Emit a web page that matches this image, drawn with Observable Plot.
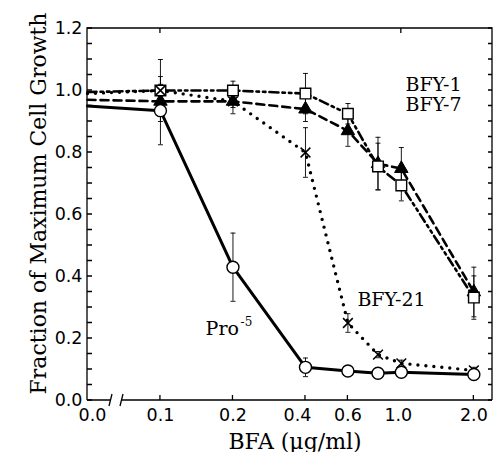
<!DOCTYPE html>
<html><head><meta charset="utf-8">
<script src="https://cdn.jsdelivr.net/npm/d3@7"></script>
<script src="https://cdn.jsdelivr.net/npm/@observablehq/plot@0.6"></script>
<style>body{margin:0;background:#fff}</style>
</head><body><div id="chart"></div>
<script>
// ---- data ----
const doses = [0, 0.1, 0.2, 0.4, 0.6, 0.8, 1.0, 2.0];
const pro5     = [0.95, 0.935, 0.43, 0.107, 0.095, 0.088, 0.091, 0.084];
const pro5Err  = [null, 0.11, 0.11, 0.03, 0.01, 0.01, 0.01, 0.01];
const bfy21    = [0.99, 1.0, 0.965, 0.80, 0.25, 0.148, 0.12, 0.097];
const bfy21Err = [null, 0.02, 0.02, 0.08, 0.03, 0.01, 0.01, 0.01];
const bfy1     = [0.995, 1.0, 1.0, 0.99, 0.925, 0.755, 0.694, 0.332];
const bfy1Err  = [null, 0.10, 0.03, 0.065, 0.033, 0.075, 0.05, 0.07];
const bfy7     = [0.97, 0.965, 0.965, 0.94, 0.87, 0.764, 0.748, 0.35];
const bfy7Err  = [null, 0.02, 0.04, 0.04, 0.05, 0.085, 0.068, 0.08];
const xTickValues = [0, 0.1, 0.2, 0.4, 0.6, 1.0, 2.0];
const xTickLabels = ["0.0", "0.1", "0.2", "0.4", "0.6", "1.0", "2.0"];
const yTickValues = [0, 0.2, 0.4, 0.6, 0.8, 1.0, 1.2];
const yMinorTicks = d3.range(0, 24.5, 1).map(i => i * 0.05);
const xBottomTicks = [0.1, 0.2, 0.4, 0.6, 2.0];
const xTopTicks = [0.1, 1.0];
const xTitle = "BFA (µg/ml)";
const yTitle = "Fraction of Maximum Cell Growth";

// dose 0 is drawn at the broken-axis origin of the log scale
const ZERO_POS = 0.0498;
const pos = d => d === 0 ? ZERO_POS : d;

const series = [
  {name: "Pro-5", values: pro5, err: pro5Err},
  {name: "BFY-21", values: bfy21, err: bfy21Err},
  {name: "BFY-1", values: bfy1, err: bfy1Err},
  {name: "BFY-7", values: bfy7, err: bfy7Err}
];
const rows = series.flatMap(s => doses.map((d, i) => ({series: s.name, dose: d, value: s.values[i], err: s.err[i]})));
const of = name => rows.filter(r => r.series === name);
const pts = name => rows.filter(r => r.series === name && r.dose > 0);
const errs = rows.filter(r => r.err != null);

const capSymbol = {draw(ctx) { ctx.moveTo(-2.5, 0); ctx.lineTo(2.5, 0); }};

function frameMark(index, {x, y}, values, dims) {
  const {width, height, marginLeft: L, marginRight: R, marginTop: T, marginBottom: B} = dims;
  const x0 = L, x1 = width - R, y0 = height - B, y1 = T;
  const g = d3.create("svg:g").attr("stroke", "black").attr("fill", "none").attr("stroke-width", 1.3);
  g.append("path").attr("d", `M${x0},${y0}V${y1}H${x1}V${y0}`);
  const b1 = x0 + 24, b2 = x0 + 35;
  g.append("path").attr("d", `M${x0},${y0}H${b1}M${b2},${y0}H${x1}`);
  g.append("path").attr("d", `M${b1-2},${y0+6}L${b1+1},${y0-6}M${b2-2},${y0+6}L${b2+1},${y0-6}`);
  for (const t of yMinorTicks) g.append("path").attr("d", `M${x0},${y(t)}h5M${x1},${y(t)}h-4`);
  for (const t of xBottomTicks) g.append("path").attr("d", `M${x(t)},${y0}v-5`);
  for (const t of xTopTicks) g.append("path").attr("d", `M${x(t)},${y1}v5`);
  return g.node();
}

const xNudge = [5, 0, 0, -8, 0, -3, 0];
const sans = "DejaVu Sans";
const serif = "DejaVu Serif";

const chart = Plot.plot({
  width: 497, height: 452,
  marginLeft: 87, marginRight: 5, marginTop: 28, marginBottom: 52,
  x: {type: "log", domain: [ZERO_POS, 2.39], axis: null},
  y: {domain: [0, 1.2], axis: null},
  style: {fontFamily: serif, background: "white", color: "black"},
  marks: [
    // series lines
    Plot.line(of("BFY-1"), {x: d => pos(d.dose), y: "value", stroke: "black", strokeWidth: 2.6, strokeDasharray: "9 4 2.5 4 2.5 4"}),
    Plot.line(of("BFY-7"), {x: d => pos(d.dose), y: "value", stroke: "black", strokeWidth: 2.6, strokeDasharray: "8 5"}),
    Plot.line(of("BFY-21"), {x: d => pos(d.dose), y: "value", stroke: "black", strokeWidth: 3.4, strokeDasharray: "0 8", strokeLinecap: "round"}),
    Plot.line(of("Pro-5"), {x: d => pos(d.dose), y: "value", stroke: "black", strokeWidth: 3}),
    // error bars
    Plot.ruleX(errs, {x: "dose", y1: d => d.value - d.err, y2: d => d.value + d.err, stroke: "black", strokeWidth: 0.9}),
    Plot.dot(errs, {x: "dose", y: d => d.value - d.err, symbol: capSymbol, r: 3, stroke: "black", strokeWidth: 0.9, fill: "none"}),
    Plot.dot(errs, {x: "dose", y: d => d.value + d.err, symbol: capSymbol, r: 3, stroke: "black", strokeWidth: 0.9, fill: "none"}),
    // markers
    Plot.dot(pts("BFY-7"), {x: "dose", y: "value", symbol: "triangle", r: 5, fill: "black", stroke: "black", strokeWidth: 1}),
    Plot.dot(pts("BFY-1"), {x: "dose", y: "value", symbol: "square", r: 6, fill: "white", stroke: "black", strokeWidth: 1.4}),
    Plot.dot(pts("BFY-21"), {x: "dose", y: "value", symbol: "times", r: 4.5, stroke: "black", strokeWidth: 1.5}),
    Plot.dot(pts("Pro-5"), {x: "dose", y: "value", symbol: "circle", r: 6, fill: "white", stroke: "black", strokeWidth: 1.4}),
    // frame, ticks, axis break
    frameMark,
    // y tick labels
    Plot.axisY(yTickValues, {anchor: "left", label: null, tickSize: 0, tickPadding: 5, tickFormat: d3.format(".1f"), fontSize: 17.5, fontFamily: sans, letterSpacing: 0.8}),
    // x tick labels
    ...xTickValues.map((v, i) => Plot.text([v], {x: d => pos(d), frameAnchor: "bottom", lineAnchor: "top", dy: 8, dx: xNudge[i], text: () => xTickLabels[i], fontSize: 17.5, fontFamily: sans, letterSpacing: 0.8})),
    // titles
    Plot.text([xTitle], {frameAnchor: "bottom", lineAnchor: "bottom", textAnchor: "middle", dy: 48, dx: 5, text: d => d, fontSize: 22, fontFamily: serif}),
    Plot.text([yTitle], {frameAnchor: "left", lineAnchor: "bottom", textAnchor: "middle", rotate: -90, dx: -42, dy: -11, text: d => d, fontSize: 22, fontFamily: serif}),
    // series labels
    Plot.text(["BFY-1"], {x: 1.04, y: 1.0, text: d => d, textAnchor: "start", lineAnchor: "bottom", fontSize: 19}),
    Plot.text(["BFY-7"], {x: 1.04, y: 0.935, text: d => d, textAnchor: "start", lineAnchor: "bottom", fontSize: 19}),
    Plot.text(["BFY-21"], {x: 0.657, y: 0.306, text: d => d, textAnchor: "start", lineAnchor: "bottom", fontSize: 19}),
    Plot.text(["Pro"], {x: 0.154, y: 0.21, text: d => d, textAnchor: "start", lineAnchor: "bottom", fontSize: 19}),
    Plot.text(["-5"], {x: 0.154, y: 0.21, text: d => d, textAnchor: "start", lineAnchor: "bottom", dx: 35, dy: -9, fontSize: 12})
  ]
});
document.getElementById("chart").appendChild(chart);
</script>
</body></html>
